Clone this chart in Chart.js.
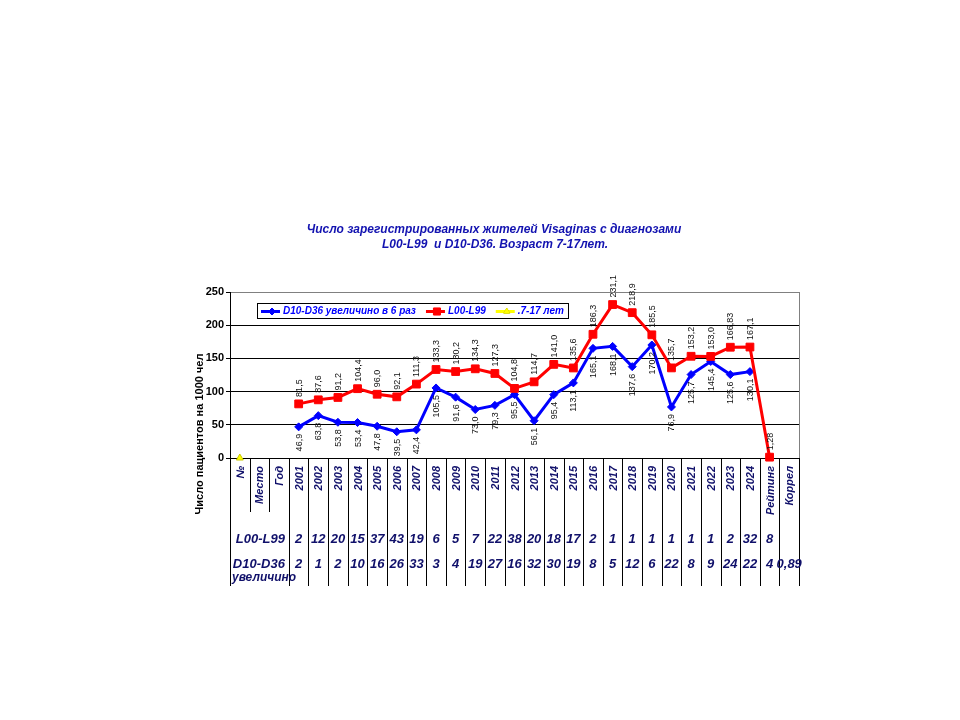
<!DOCTYPE html>
<html><head><meta charset="utf-8">
<script src="https://cdn.jsdelivr.net/npm/chart.js@4"></script>
<style>html,body{margin:0;padding:0;background:#fff}canvas{display:block}</style>
</head><body>
<canvas id="c" width="960" height="720"></canvas>
<script>
// ---- data ----
const categories = ['№','Место','Год','2001','2002','2003','2004','2005','2006','2007','2008','2009','2010','2011','2012','2013','2014','2015','2016','2017','2018','2019','2020','2021','2022','2023','2024','Рейтинг','Коррел'];
const seriesD10 = [null,null,null,46.9,63.8,53.8,53.4,47.8,39.5,42.4,105.5,91.6,73.0,79.3,95.5,56.1,95.4,113.1,165.1,168.1,137.6,170.2,76.9,125.7,145.4,125.6,130.1,null,null];
const seriesL00 = [null,null,null,81.5,87.6,91.2,104.4,96.0,92.1,111.3,133.3,130.2,134.3,127.3,104.8,114.7,141.0,135.6,186.3,231.1,218.9,185.5,135.7,153.2,153.0,166.83,167.1,1.28,null];
const series717 = [0,null,null,null,null,null,null,null,null,null,null,null,null,null,null,null,null,null,null,null,null,null,null,null,null,null,null,null,null];
const seriesNames = ['D10-D36 увеличино в 6 раз','L00-L99','.7-17 лет'];
const yMin = 0, yMax = 250, yStep = 50;
const tableRowLabels = ['L00-L99','D10-D36'];
const tableRowNote = 'увеличино';
const tableL00 = ['','','','2','12','20','15','37','43','19','6','5','7','22','38','20','18','17','2','1','1','1','1','1','1','2','32','8',''];
const tableD10 = ['','','','2','1','2','10','16','26','33','3','4','19','27','16','32','30','19','8','5','12','6','22','8','9','24','22','4','0,89'];
const titleLines = ['Число зарегистрированных жителей Visaginas с диагнозами','L00-L99  и D10-D36. Возраст 7-17лет.'];
const yAxisTitle = 'Число пациентов на 1000 чел';

const NAVY = '#10106a';
function fmt(v){
  const r = Math.round(v*10)/10;
  const s = Math.abs(v - r) < 1e-9 ? v.toFixed(1) : String(v);
  return s.replace('.', ',');
}

const decor = {
  id: 'decor',
  afterDatasetsDraw(chart){
    const ctx = chart.ctx;
    ctx.save();
    ctx.font = '9px "Liberation Sans", Arial, sans-serif';
    ctx.fillStyle = '#111';
    ctx.textBaseline = 'middle';
    [[1, -7, 'left'], [0, 7, 'right']].forEach(([di, off, align]) => {
      const meta = chart.getDatasetMeta(di);
      const data = chart.data.datasets[di].data;
      meta.data.forEach((pt, i) => {
        if (data[i] === null) return;
        ctx.save();
        ctx.translate(pt.x + 0.5, pt.y + off);
        ctx.rotate(-Math.PI/2);
        ctx.textAlign = align;
        ctx.fillText(fmt(data[i]), 0, 0);
        ctx.restore();
      });
    });
    ctx.restore();
  },
  afterDraw(chart){
    const ctx = chart.ctx;
    const ca = chart.chartArea;
    const xs = chart.scales.x;
    const n = categories.length;
    const w = xs.getPixelForValue(1) - xs.getPixelForValue(0);
    ctx.save();
    ctx.strokeStyle = '#808080';
    ctx.lineWidth = 1;
    ctx.beginPath();
    ctx.moveTo(Math.round(ca.right)+0.5, ca.top);
    ctx.lineTo(Math.round(ca.right)+0.5, ca.bottom);
    ctx.stroke();
    ctx.strokeStyle = '#000';
    for (let i = 0; i <= n; i++) {
      const x = Math.round(xs.getPixelForValue(0) - w/2 + i*w) + 0.5;
      const yEnd = (i === 1 || i === 2) ? 512 : 586;
      ctx.beginPath();
      ctx.moveTo(x, ca.bottom);
      ctx.lineTo(x, yEnd);
      ctx.stroke();
    }
    ctx.fillStyle = NAVY;
    ctx.font = 'bold italic 11px "Liberation Sans", Arial, sans-serif';
    ctx.textBaseline = 'middle';
    categories.forEach((c, i) => {
      const x = xs.getPixelForValue(i);
      ctx.save();
      ctx.translate(x + 1, ca.bottom + 8);
      ctx.rotate(-Math.PI/2);
      ctx.textAlign = 'right';
      ctx.fillText(c, 0, 0);
      ctx.restore();
    });
    ctx.font = 'bold italic 13px "Liberation Sans Narrow", "Liberation Sans", Arial, sans-serif';
    ctx.textAlign = 'right';
    const sepGod = xs.getPixelForValue(2) + w/2;
    ctx.fillText(tableRowLabels[0], sepGod - 4, 539);
    ctx.fillText(tableRowLabels[1], sepGod - 4, 564);
    ctx.textAlign = 'center';
    [[tableL00, 539], [tableD10, 564]].forEach(([row, yy]) => {
      row.forEach((t, i) => { if (t) ctx.fillText(t, xs.getPixelForValue(i), yy); });
    });
    ctx.textAlign = 'left';
    ctx.font = 'bold italic 12px "Liberation Sans Narrow", "Liberation Sans", Arial, sans-serif';
    ctx.fillText(tableRowNote, ca.left + 2, 578);
    ctx.fillStyle = '#1212b0';
    ctx.font = 'bold italic 12px "Liberation Sans", Arial, sans-serif';
    ctx.textAlign = 'center';
    ctx.fillText(titleLines[0], 494, 230);
    ctx.fillText(titleLines[1], 495, 245);
    ctx.fillStyle = '#000';
    ctx.font = 'bold 11px "Liberation Sans", Arial, sans-serif';
    ctx.save();
    ctx.translate(200, 434);
    ctx.rotate(-Math.PI/2);
    ctx.textAlign = 'center';
    ctx.fillText(yAxisTitle, 0, 0);
    ctx.restore();
    const lx = 257, ly = 303, lw = 311, lh = 15;
    ctx.fillStyle = '#fff';
    ctx.fillRect(lx, ly, lw, lh);
    ctx.strokeStyle = '#000';
    ctx.strokeRect(lx + 0.5, ly + 0.5, lw, lh);
    ctx.font = 'bold italic 10px "Liberation Sans", Arial, sans-serif';
    ctx.textAlign = 'left';
    const cy = ly + lh/2 + 1;
    let x = lx + 4;
    chart.data.datasets.forEach((ds) => {
      ctx.strokeStyle = ds.borderColor;
      ctx.lineWidth = 3;
      ctx.beginPath();
      ctx.moveTo(x, cy); ctx.lineTo(x + 19, cy); ctx.stroke();
      ctx.lineWidth = 1;
      ctx.fillStyle = ds.pointBackgroundColor;
      ctx.strokeStyle = ds.pointBorderColor;
      Chart.helpers.drawPoint(ctx, {pointStyle: ds.pointStyle, radius: ds.legendRadius, borderWidth: 1}, x + 11, cy);
      ctx.fill();
      x += 22;
      ctx.fillStyle = '#0000ff';
      ctx.fillText(ds.label, x, cy);
      x += ctx.measureText(ds.label).width + 10;
    });
    ctx.restore();
  }
};

new Chart(document.getElementById('c'), {
  type: 'line',
  data: {
    labels: categories,
    datasets: [
      { label: seriesNames[0], data: seriesD10, borderColor: '#0000ff', backgroundColor: '#0000ff',
        pointBackgroundColor: '#0000ff', pointBorderColor: '#0000ff', borderWidth: 3, pointBorderWidth: 1,
        pointStyle: 'rectRot', pointRadius: 4, legendRadius: 3.5, clip: false, order: 2 },
      { label: seriesNames[1], data: seriesL00, borderColor: '#ff0000', backgroundColor: '#ff0000',
        pointBackgroundColor: '#ff0000', pointBorderColor: '#ff0000', borderWidth: 3, pointBorderWidth: 1,
        pointStyle: 'rect', pointRadius: 5.5, legendRadius: 5, clip: false, order: 1 },
      { label: seriesNames[2], data: series717, borderColor: '#ffff00', backgroundColor: '#ffff00',
        pointBackgroundColor: '#ffff00', pointBorderColor: '#c8c800', borderWidth: 2, pointBorderWidth: 1,
        pointStyle: 'triangle', pointRadius: 4, legendRadius: 3.5, clip: false, order: 0 }
    ]
  },
  options: {
    responsive: false,
    animation: false,
    devicePixelRatio: 1,
    layout: { padding: { left: 180, top: 292, right: 161, bottom: 132 } },
    plugins: { legend: { display: false }, tooltip: { enabled: false }, title: { display: false } },
    elements: { line: { tension: 0 } },
    scales: {
      x: {
        type: 'category', offset: true,
        grid: { display: false }, border: { display: false },
        ticks: { display: false },
        afterFit(s){ s.height = 130; }
      },
      y: {
        min: yMin, max: yMax,
        ticks: { stepSize: yStep, color: '#000', padding: 2,
          font: { family: '"Liberation Sans Narrow", "Liberation Sans", Arial', size: 11, weight: 'bold' } },
        grid: { color: c => c.tick && c.tick.value === yMax ? '#808080' : '#000', lineWidth: 1,
          drawTicks: true, tickLength: 4, tickColor: '#000' },
        border: { display: true, color: '#000', width: 1 },
        afterFit(s){ s.width = 50; }
      }
    }
  },
  plugins: [decor]
});
</script>
</body></html>
